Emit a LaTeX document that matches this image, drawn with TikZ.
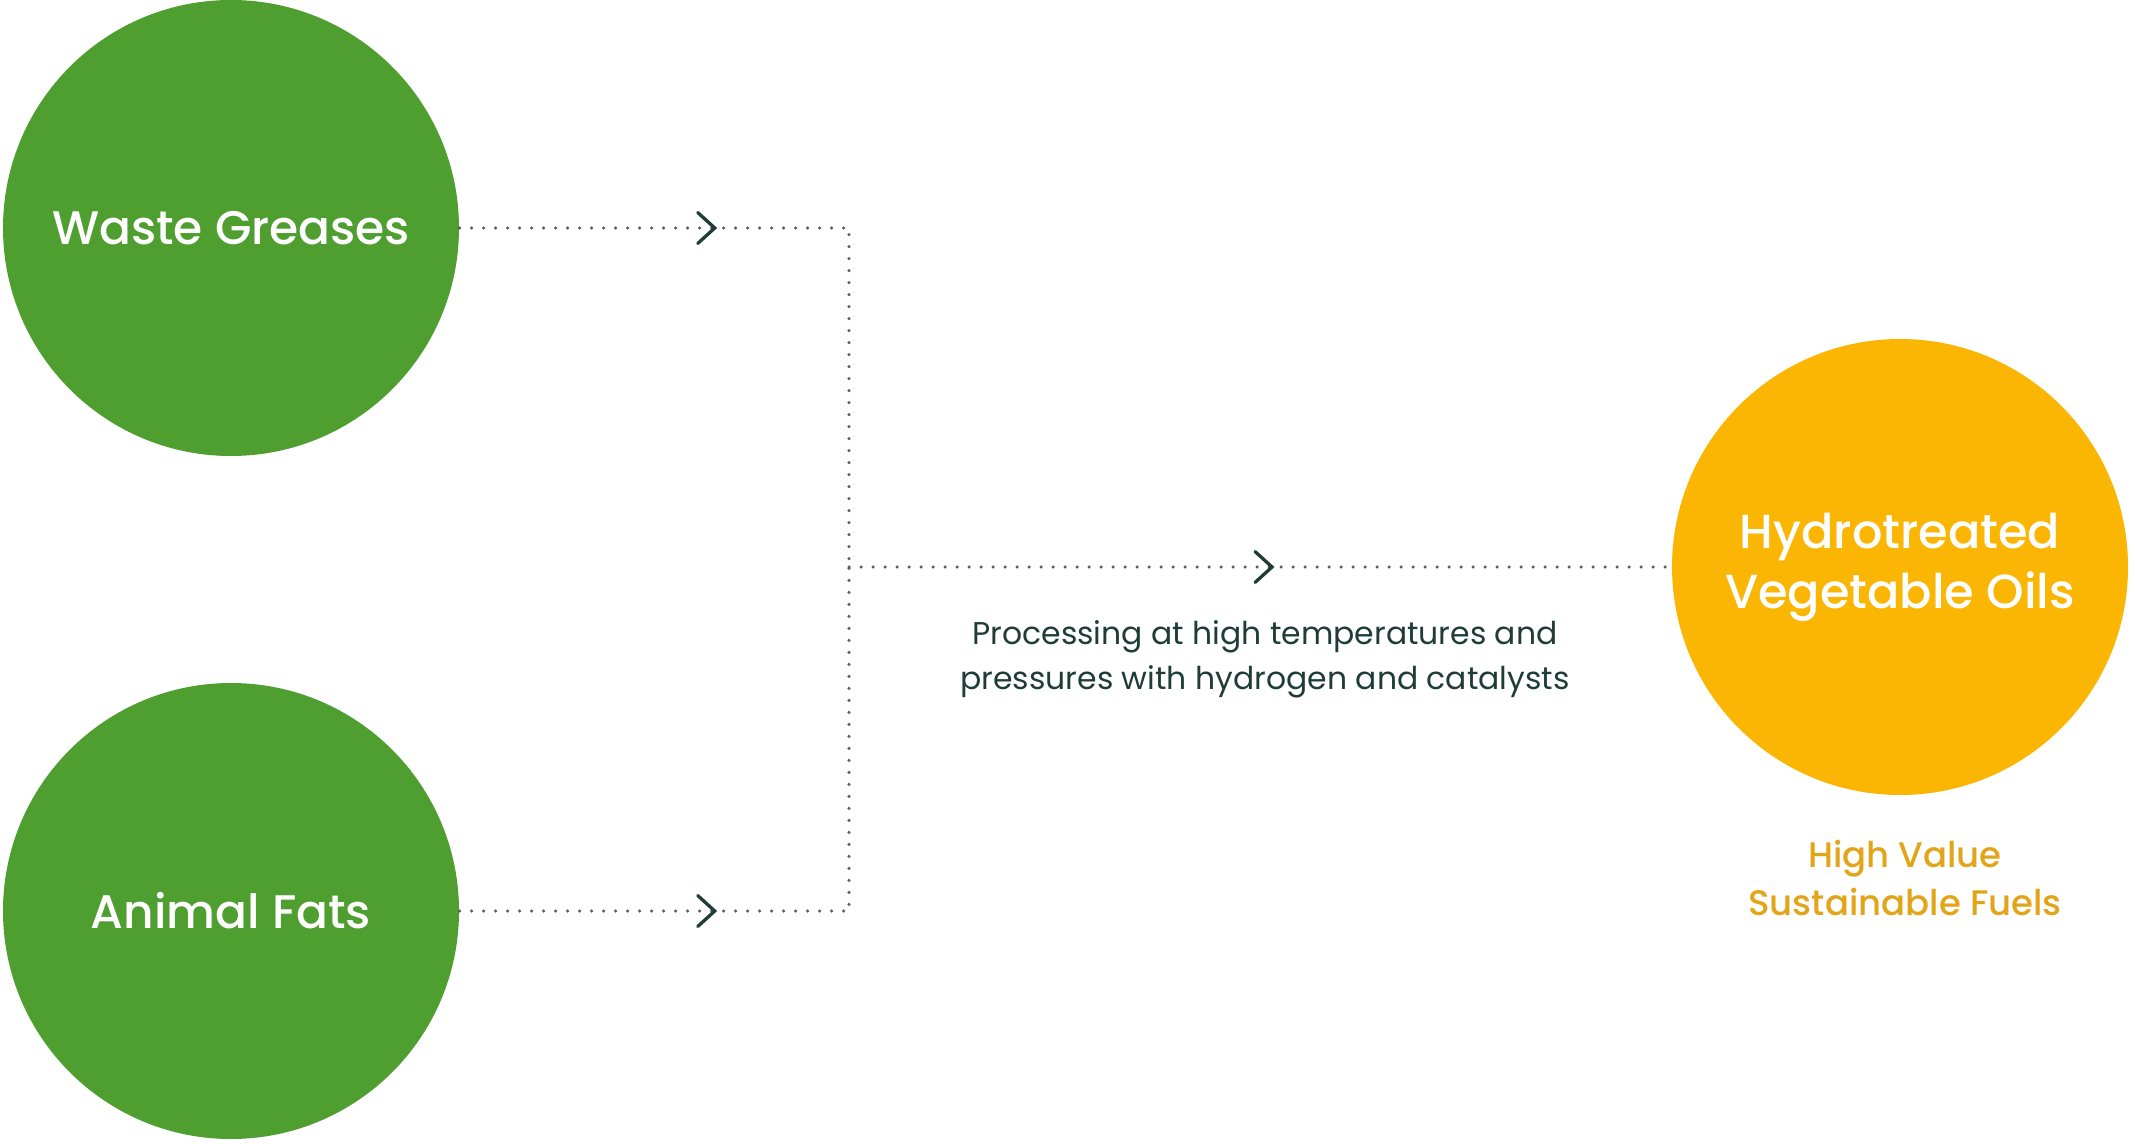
\documentclass[tikz,border=0pt]{standalone}
\usepackage{fontspec}
\setmainfont{Poppins}
\newfontfamily\medfont{Poppins Medium}
\usetikzlibrary{positioning,decorations.markings}
\definecolor{leafgreen}{HTML}{4F9E30}
\definecolor{sunorange}{HTML}{FBB603}
\definecolor{goldtext}{HTML}{E2A519}
\definecolor{pinegreen}{HTML}{1F3D36}
\definecolor{dotgray}{HTML}{5E5E5E}
\begin{document}
\begin{tikzpicture}[x=1mm,y=1mm,
  feed/.style={circle,fill=leafgreen,minimum size=45.6mm,inner sep=0pt,
    text=white,align=center,font=\medfont\fontsize{13.4}{17}\selectfont},
  product/.style={feed,fill=sunorange,font=\medfont\fontsize{13.6}{17}\selectfont},
  note/.style={align=center,text=pinegreen,inner sep=0pt,
    font=\fontsize{8.95}{12.8}\selectfont},
  tagline/.style={align=center,text=goldtext,inner sep=0pt,
    font=\medfont\fontsize{10.1}{13.6}\selectfont},
  dotline/.style={draw=dotgray,line width=0.35mm,line cap=round,
    dash pattern=on 0pt off 1.2mm},
  chevron at/.style={postaction={decorate},decoration={markings,
    mark=at position #1 with {\draw[solid,pinegreen,line width=0.33mm,line cap=round]
      (-1.7,1.55) -- (0,0) -- (-1.7,-1.55);}}}]
\useasboundingbox (0,0) rectangle (213.5,114.3);

% sources
\node[feed] (waste) at (23.1,91.5) {Waste Greases};
\node[feed] (fats) at (23.1,23.2) {Animal Fats};
% product
\node[product] (hvo) at (190.0,57.6) {Hydrotreated\\Vegetable Oils};
\node[tagline] (value) at (190.5,26.5) {High Value\\Sustainable Fuels};

% flow
\coordinate (join) at (84.9,57.6);
\draw[dotline,chevron at=25.5mm] (waste) -- (waste -| join) -- (join);
\draw[dotline,chevron at=25.5mm] (fats) -- (fats -| join) -- (join);
\draw[dotline,chevron at=42.3mm] (join) -- (hvo);
\node[note] (process) at (126.5,48.4)
  {Processing at high temperatures and\\pressures with hydrogen and catalysts};

\end{tikzpicture}
\end{document}
